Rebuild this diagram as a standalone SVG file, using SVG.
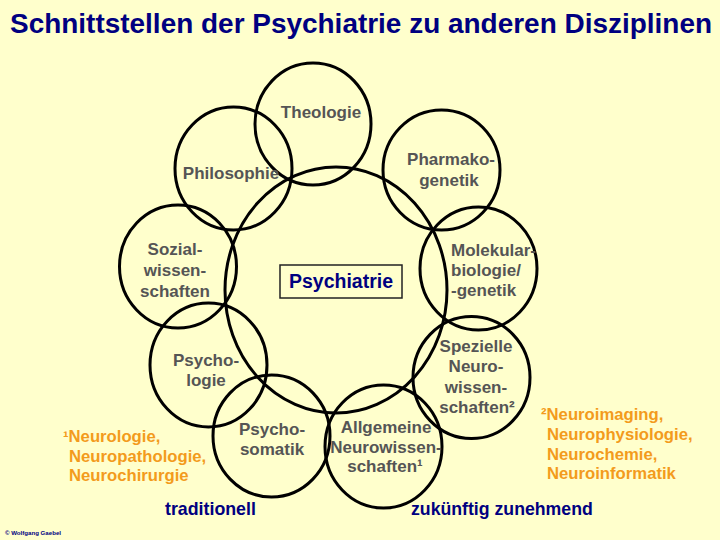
<svg xmlns="http://www.w3.org/2000/svg" width="720" height="540" viewBox="0 0 720 540">
<style>
.c{fill:none;stroke:#000;stroke-width:3}
.n{font-family:"Liberation Sans",Arial,sans-serif;font-weight:bold;font-size:17px;fill:#555555;text-anchor:middle}
.s{text-anchor:start}
.o{font-family:"Liberation Sans",Arial,sans-serif;font-weight:bold;font-size:16.7px;fill:#F39B1C}
.b{font-family:"Liberation Sans",Arial,sans-serif;font-weight:bold;fill:#000080}
</style>
<rect width="720" height="540" fill="#FFFFCC"/>
<text class="b" x="10" y="33" font-size="28" textLength="702" lengthAdjust="spacingAndGlyphs">Schnittstellen der Psychiatrie zu anderen Disziplinen</text>
<g id="connectors"></g>
<g id="psychiatrie">
<ellipse class="c" cx="336" cy="290" rx="111" ry="123"/>
<rect x="280" y="265" width="122" height="33" fill="none" stroke="#222" stroke-width="1.5"/>
<text class="b" x="341" y="288" font-size="19.5" text-anchor="middle">Psychiatrie</text>
</g>
<g id="theologie">
<ellipse class="c" cx="313" cy="124" rx="58" ry="61"/>
<text class="n" x="321" y="118">Theologie</text>
</g>
<g id="philosophie">
<ellipse class="c" cx="233.5" cy="168.5" rx="58.5" ry="61.5"/>
<text class="n" x="231" y="179">Philosophie</text>
</g>
<g id="sozialwissenschaften">
<ellipse class="c" cx="178" cy="266.5" rx="58.5" ry="61.5"/>
<text class="n" x="175" y="255">Sozial-</text>
<text class="n" x="175" y="276">wissen-</text>
<text class="n" x="175" y="297">schaften</text>
</g>
<g id="pharmakogenetik">
<ellipse class="c" cx="441.5" cy="170" rx="58.5" ry="60"/>
<text class="n" x="451" y="165">Pharmako-</text>
<text class="n" x="449" y="186">genetik</text>
</g>
<g id="molekularbiologie">
<ellipse class="c" cx="478.5" cy="268.5" rx="58.5" ry="61.5"/>
<text class="n s" x="451" y="256">Molekular-</text>
<text class="n s" x="451" y="276">biologie/</text>
<text class="n s" x="451" y="296">-genetik</text>
</g>
<g id="spezielle">
<ellipse class="c" cx="471.5" cy="377.5" rx="58.5" ry="61"/>
<text class="n" x="476" y="352">Spezielle</text>
<text class="n" x="476" y="372">Neuro-</text>
<text class="n" x="476" y="393">wissen-</text>
<text class="n" x="477" y="413">schaften²</text>
</g>
<g id="psychologie">
<ellipse class="c" cx="208.5" cy="365" rx="58.5" ry="62"/>
<text class="n" x="206" y="366">Psycho-</text>
<text class="n" x="206" y="386">logie</text>
</g>
<g id="psychosomatik">
<ellipse class="c" cx="271.5" cy="436" rx="58.5" ry="61"/>
<text class="n" x="272" y="435">Psycho-</text>
<text class="n" x="272" y="455">somatik</text>
</g>
<g id="allgemeine">
<ellipse class="c" cx="383.5" cy="446.5" rx="58.5" ry="61.5"/>
<text class="n" x="386" y="433">Allgemeine</text>
<text class="n" x="386" y="453">Neurowissen-</text>
<text class="n" x="385" y="472">schaften¹</text>
</g>
<g id="note1">
<text class="o" x="63" y="442">¹Neurologie,</text>
<text class="o" x="69" y="462">Neuropathologie,</text>
<text class="o" x="69" y="481">Neurochirurgie</text>
</g>
<g id="note2">
<text class="o" x="541" y="420">²Neuroimaging,</text>
<text class="o" x="547" y="440">Neurophysiologie,</text>
<text class="o" x="547" y="460">Neurochemie,</text>
<text class="o" x="547" y="479">Neuroinformatik</text>
</g>
<text class="b" x="165" y="515" font-size="17.8">traditionell</text>
<text class="b" x="411" y="515" font-size="17.7">zukünftig zunehmend</text>
<text class="b" x="5" y="535" font-size="6" fill="#1a1a4d" textLength="56" lengthAdjust="spacingAndGlyphs">© Wolfgang Gaebel</text>
</svg>
